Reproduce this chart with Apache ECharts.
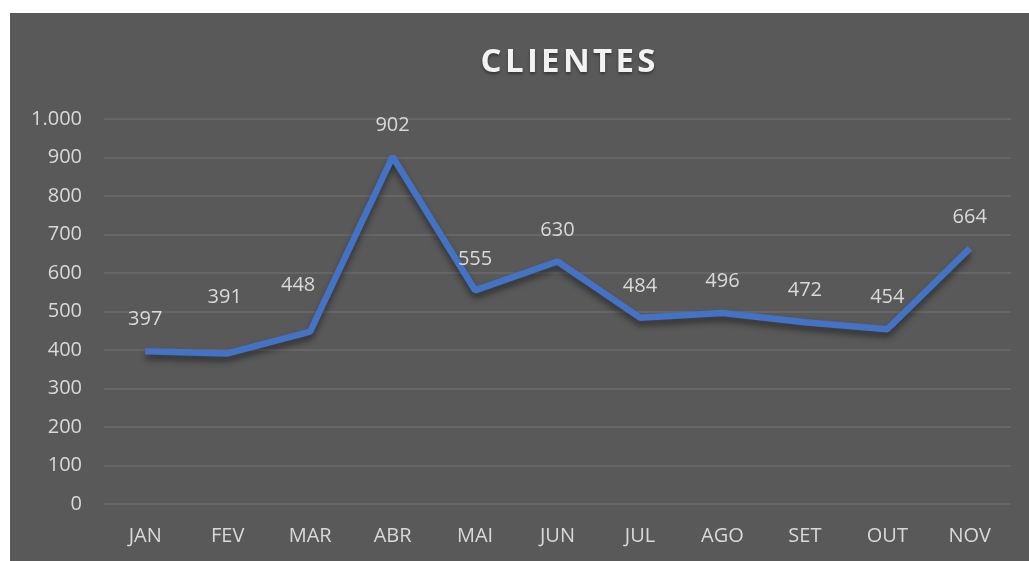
<!DOCTYPE html>
<html>
<head>
<meta charset="utf-8">
<script src="https://cdn.jsdelivr.net/npm/echarts@6/dist/echarts.min.js"></script>
<style>
  html, body { margin: 0; padding: 0; background: #ffffff; width: 100%; height: 100%; overflow: hidden; }
  #container { position: absolute; left: 10px; top: 13px; width: 1019px; height: 548px; }
</style>
</head>
<body>
<div id="container"></div>
<script type="text/javascript">
var months = ['JAN', 'FEV', 'MAR', 'ABR', 'MAI', 'JUN', 'JUL', 'AGO', 'SET', 'OUT', 'NOV'];
var clientes = [397, 391, 448, 902, 555, 630, 484, 496, 472, 454, 664];

var myChart = echarts.init(document.getElementById('container'));

// formato pt-BR: 1.000
function fmt(v) {
    return String(v).replace(/\B(?=(\d{3})+(?!\d))/g, '.');
}

// alguns rótulos foram arrastados à mão no original
var labelShift = { 1: [-3, -25], 2: [-12, -15] };

var seriesData = clientes.map(function (v, i) {
    var item = { value: v };
    if (labelShift[i]) {
        item.label = { offset: labelShift[i] };
    }
    return item;
});

var option = {
    backgroundColor: '#595959',
    textStyle: { fontFamily: 'Open Sans' },
    title: {
        text: 'C\u200aL\u200aI\u200aE\u200aN\u200aT\u200aE\u200aS',
        left: 553,
        textAlign: 'center',
        top: 28,
        textStyle: {
            color: '#f2f2f2',
            fontSize: 33,
            fontWeight: 'bold',
            fontFamily: 'Open Sans',
            textShadowColor: 'rgba(0,0,0,0.4)',
            textShadowBlur: 3,
            textShadowOffsetY: 2
        }
    },
    grid: {
        left: 94,
        right: 18,
        top: 106,
        bottom: 57
    },
    xAxis: {
        type: 'category',
        data: months,
        boundaryGap: true,
        axisLine: { show: false },
        axisTick: { show: false },
        axisLabel: {
            color: '#d9d9d9',
            fontSize: 20,
            margin: 22
        }
    },
    yAxis: {
        type: 'value',
        min: 0,
        max: 1000,
        interval: 100,
        axisLine: { show: false },
        axisTick: { show: false },
        axisLabel: {
            color: '#d9d9d9',
            fontSize: 20,
            margin: 22,
            formatter: fmt
        },
        splitLine: {
            lineStyle: { color: '#6b6b6b', width: 1.5 }
        }
    },
    series: [{
        type: 'line',
        data: seriesData,
        symbol: 'circle',
        symbolSize: 1,
        showSymbol: true,
        itemStyle: { color: 'rgba(0,0,0,0)' },
        lineStyle: {
            color: '#4472c4',
            width: 6.5,
            shadowColor: 'rgba(0,0,0,0.45)',
            shadowBlur: 6,
            shadowOffsetY: 5
        },
        label: {
            show: true,
            position: 'top',
            distance: 21,
            color: '#d9d9d9',
            fontSize: 20
        }
    }]
};

myChart.setOption(option);
</script>
</body>
</html>
